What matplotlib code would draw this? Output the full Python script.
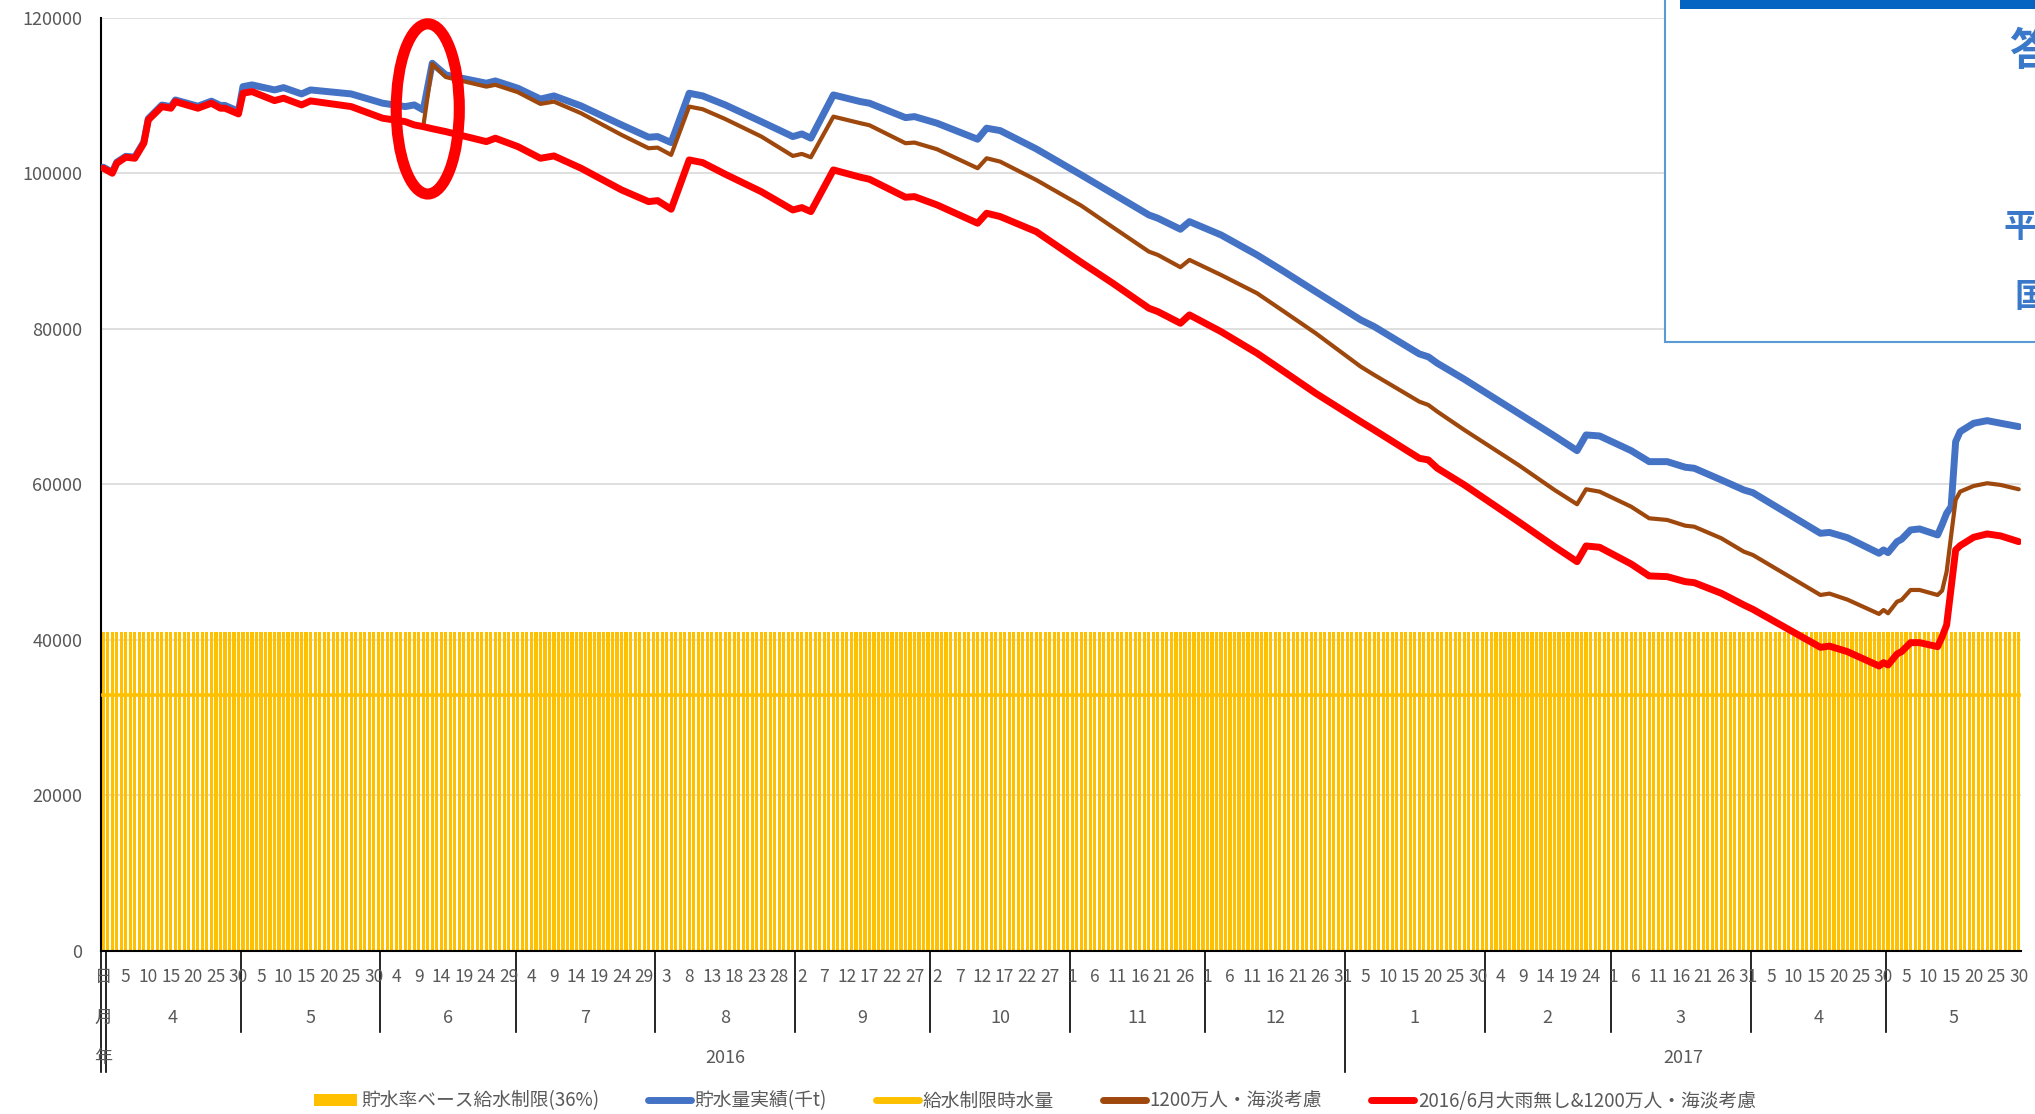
import numpy as np
import pandas as pd
import matplotlib
matplotlib.use("Agg")
import matplotlib.pyplot as plt
import matplotlib.transforms as mtransforms
from matplotlib.patches import Ellipse, Rectangle, Patch
from matplotlib.lines import Line2D

plt.rcParams['font.family'] = ['Noto Sans CJK JP', 'DejaVu Sans']

# ---------------- data ----------------
# category axis: first slot is the header column (日/月/年), then one category per day
CAT_START = "2016-03-31"
CAT_END = "2017-05-30"

sample_dates = [
    "2016-03-31", "2016-04-02", "2016-04-03", "2016-04-05", "2016-04-07", "2016-04-09",
    "2016-04-10", "2016-04-13", "2016-04-15", "2016-04-16", "2016-04-21", "2016-04-24",
    "2016-04-26", "2016-04-27", "2016-04-30", "2016-05-01", "2016-05-03", "2016-05-08",
    "2016-05-10", "2016-05-14", "2016-05-16", "2016-05-25", "2016-06-01", "2016-06-06",
    "2016-06-08", "2016-06-10", "2016-06-12", "2016-06-15", "2016-06-24", "2016-06-26",
    "2016-07-01", "2016-07-06", "2016-07-09", "2016-07-15", "2016-07-24", "2016-07-30",
    "2016-08-01", "2016-08-04", "2016-08-08", "2016-08-11", "2016-08-16", "2016-08-24",
    "2016-08-31", "2016-09-02", "2016-09-04", "2016-09-09", "2016-09-15", "2016-09-17",
    "2016-09-25", "2016-09-27", "2016-10-02", "2016-10-11", "2016-10-13", "2016-10-16",
    "2016-10-24", "2016-11-03", "2016-11-10", "2016-11-18", "2016-11-20", "2016-11-25",
    "2016-11-27", "2016-12-04", "2016-12-12", "2016-12-18", "2016-12-25", "2017-01-04",
    "2017-01-07", "2017-01-17", "2017-01-19", "2017-01-21", "2017-01-27", "2017-02-08",
    "2017-02-16", "2017-02-21", "2017-02-23", "2017-02-26", "2017-03-05", "2017-03-09",
    "2017-03-13", "2017-03-17", "2017-03-19", "2017-03-25", "2017-03-30", "2017-04-01",
    "2017-04-16", "2017-04-18", "2017-04-22", "2017-04-29", "2017-04-30", "2017-05-01",
    "2017-05-03", "2017-05-04", "2017-05-06", "2017-05-08", "2017-05-12", "2017-05-13",
    "2017-05-14", "2017-05-15", "2017-05-16", "2017-05-17", "2017-05-20", "2017-05-23",
    "2017-05-26", "2017-05-30",
]

storage_actual = [  # 貯水量実績(千t)
    100800, 100150, 101450, 102200, 102100, 104050,
    107050, 108800, 108600, 109450, 108650, 109300,
    108750, 108750, 108000, 111170, 111390, 110745,
    111040, 110230, 110745, 110230, 109035, 108600,
    108815, 108170, 114180, 112675, 111610, 111900,
    110960, 109570, 109975, 108690, 106245, 104660,
    104740, 103970, 110320, 109975, 108815, 106665,
    104740, 105080, 104530, 110100, 109240, 109035,
    107180, 107310, 106460, 104400, 105820, 105510,
    103160, 99800, 97400, 94655, 94230, 92815,
    93795, 92085, 89510, 87365, 84790, 81145,
    80285, 76770, 76400, 75570, 73510, 69135,
    66215, 64325, 66345, 66215, 64325, 62910,
    62910, 62190, 62060, 60555, 59265, 58920,
    53690, 53800, 53120, 51120, 51545, 51200,
    52615, 52920, 54120, 54250, 53475, 54800,
    56265, 57120, 65480, 66770, 67850, 68185,
    67850, 67415,
]

storage_12m = [  # 1200万人・海淡考慮
    100670, 100025, 101310, 102080, 101950, 103885,
    106885, 108600, 108390, 109240, 108390, 109035,
    108390, 108390, 107655, 110320, 110530, 109370,
    109680, 108815, 109330, 108600, 107100, 106665,
    106240, 106020, 114100, 112400, 111170, 111400,
    110450, 108945, 109240, 107750, 104955, 103240,
    103320, 102380, 108600, 108260, 107000, 104750,
    102250, 102510, 102080, 107310, 106460, 106200,
    103885, 103970, 103110, 100670, 101950, 101520,
    99160, 95850, 93075, 89935, 89510, 87930,
    88870, 86935, 84580, 82215, 79435, 75135,
    74065, 70630, 70205, 69345, 66985, 62480,
    59265, 57425, 59355, 59050, 57115, 55620,
    55405, 54670, 54540, 53050, 51325, 50900,
    45750, 45930, 45150, 43310, 43820, 43400,
    44890, 45110, 46395, 46395, 45750, 46300,
    48750, 53400, 57980, 59050, 59780, 60130,
    59910, 59355,
]

storage_no_rain = [  # 2016/6月大雨無し&1200万人・海淡考慮
    100670, 100025, 101310, 102080, 101950, 103885,
    106885, 108600, 108390, 109240, 108390, 109035,
    108390, 108390, 107655, 110320, 110530, 109370,
    109680, 108815, 109330, 108600, 107100, 106665,
    106240, 106020, 105750, 105380, 104095, 104530,
    103450, 101950, 102250, 100670, 97875, 96370,
    96500, 95390, 101735, 101390, 99900, 97650,
    95300, 95600, 95085, 100450, 99510, 99250,
    96935, 97015, 95945, 93590, 94875, 94450,
    92510, 88550, 85865, 82650, 82215, 80720,
    81790, 79640, 76860, 74490, 71710, 68055,
    66985, 63345, 63130, 62060, 59910, 55190,
    51970, 50040, 52060, 51890, 49740, 48200,
    48110, 47465, 47335, 45970, 44465, 43910,
    39020, 39170, 38455, 36615, 37040, 36745,
    38160, 38455, 39615, 39615, 39100, 40385,
    41890, 46700, 51545, 52100, 53180, 53605,
    53350, 52615,
]

limit_36pct_value = 41000        # 貯水率ベース給水制限(36%)  (bar, every category)
restriction_level_value = 32900  # 給水制限時水量 (line)

series_labels = ["貯水率ベース給水制限(36%)", "貯水量実績(千t)", "給水制限時水量",
                 "1200万人・海淡考慮", "2016/6月大雨無し&1200万人・海淡考慮"]
header_labels = ["日", "月", "年"]
y_ticks = [0, 20000, 40000, 60000, 80000, 100000, 120000]

# annotation ellipse (around the June 2016 jump)
ellipse_date = "2016-06-11"
ellipse_value = 108300
ellipse_width_days = 14
ellipse_height_value = 21900

# ---------------- figure ----------------
W, H = 2035, 1114
fig = plt.figure(figsize=(W / 100, H / 100), dpi=100)
fig.patch.set_facecolor("white")

def fx(px):
    return px / W

def fy(py):
    return 1 - py / H

ax = fig.add_axes([fx(101), fy(950.5), fx(2021) - fx(101), fy(18) - fy(950.5)])

cats = pd.date_range(CAT_START, CAT_END, freq="D")
n = len(cats)
xcat = np.arange(n)
t0 = cats[0]
xs = np.array([(pd.Timestamp(d) - t0).days for d in sample_dates])

GRAY = "#595959"
YELLOW = "#FFC000"
BLUE = "#4472C4"
BROWN = "#9E480E"
RED = "#FF0000"

bar_vals = [limit_36pct_value] * n
line_vals = [restriction_level_value] * n

ax.bar(xcat, bar_vals, width=0.7, color=YELLOW, linewidth=0, zorder=2)
ax.plot(xs, storage_actual, color=BLUE, lw=5, solid_joinstyle="round",
        solid_capstyle="round", zorder=3)
ax.plot(xcat, line_vals, color=YELLOW, lw=2.6, zorder=3)
ax.plot(xs, storage_12m, color=BROWN, lw=3, solid_joinstyle="round",
        solid_capstyle="round", zorder=4)
ax.plot(xs, storage_no_rain, color=RED, lw=5, solid_joinstyle="round",
        solid_capstyle="round", zorder=5)

ax.set_xlim(-0.5, n - 0.5)
ax.set_ylim(0, 120000)
ax.set_yticks(y_ticks)
ax.set_yticklabels([str(v) for v in y_ticks])
ax.tick_params(axis="y", length=0, pad=13.5, labelsize=13, labelcolor=GRAY)
ax.set_xticks([])
ax.yaxis.grid(True, color="#D9D9D9", lw=1.2)
ax.set_axisbelow(True)
for s in ["top", "right"]:
    ax.spines[s].set_visible(False)
ax.spines["left"].set_color("black")
ax.spines["left"].set_linewidth(1.5)
ax.spines["bottom"].set_color("black")
ax.spines["bottom"].set_linewidth(1.5)
ax.spines["bottom"].set_zorder(6)

# annotation ellipse
ell = Ellipse(((pd.Timestamp(ellipse_date) - t0).days, ellipse_value),
              ellipse_width_days, ellipse_height_value, fill=False,
              edgecolor=RED, lw=8, zorder=7, clip_on=False)
ax.add_patch(ell)

# ---------------- multi-level category axis ----------------
trans = mtransforms.blended_transform_factory(ax.transData, fig.transFigure)
Y_DAY, Y_MON, Y_YEAR = fy(977), fy(1018), fy(1058)

for i in range(0, n, 5):
    lab = header_labels[0] if i == 0 else str(cats[i].day)
    ax.text(i, Y_DAY, lab, transform=trans, ha="center", va="center",
            fontsize=12.5, color=GRAY)

ax.text(0, Y_MON, header_labels[1], transform=trans, ha="center", va="center",
        fontsize=13, color=GRAY)
ax.text(0, Y_YEAR, header_labels[2], transform=trans, ha="center", va="center",
        fontsize=13, color=GRAY)

day_idx = np.arange(1, n)
days = cats[1:]
month_keys = list(zip(days.year, days.month))
uniq_months = []
for k in month_keys:
    if k not in uniq_months:
        uniq_months.append(k)
for (yy, mm) in uniq_months:
    sel = day_idx[(days.year == yy) & (days.month == mm)]
    ax.text((sel[0] + sel[-1]) / 2, Y_MON, str(mm), transform=trans,
            ha="center", va="center", fontsize=13, color=GRAY)
    if not (sel[0] == 1):
        bottom = fy(1072) if mm == 1 else fy(1032)
        ax.add_line(Line2D([sel[0] - 0.5, sel[0] - 0.5], [fy(951), bottom],
                           transform=trans, color="black", lw=1.2, clip_on=False))
for yy in sorted(set(days.year)):
    sel = day_idx[days.year == yy]
    ax.text((sel[0] + sel[-1]) / 2, Y_YEAR, str(yy), transform=trans,
            ha="center", va="center", fontsize=13, color=GRAY)
for xb in (-0.5, 0.5):
    ax.add_line(Line2D([xb, xb], [fy(951), fy(1072)], transform=trans,
                       color="black", lw=1.2, clip_on=False))

# ---------------- legend ----------------
handles = [
    Patch(facecolor=YELLOW, edgecolor="none"),
    Line2D([], [], color=BLUE, lw=5, solid_capstyle="round"),
    Line2D([], [], color=YELLOW, lw=5, solid_capstyle="round"),
    Line2D([], [], color=BROWN, lw=5, solid_capstyle="round"),
    Line2D([], [], color=RED, lw=5, solid_capstyle="round"),
]
fig.legend(handles, series_labels, loc="center", bbox_to_anchor=(fx(1035), fy(1101)),
           ncol=5, frameon=False, fontsize=13.5, labelcolor=GRAY,
           handlelength=2.3, handleheight=0.6, handletextpad=0.2,
           columnspacing=2.6)

# ---------------- overlaid picture fragment (top right) ----------------
fig.add_artist(Rectangle((fx(1665), fy(342)), fx(2045) - fx(1665), fy(-5) - fy(342),
                         transform=fig.transFigure, facecolor="white",
                         edgecolor="#5B9BD5", lw=1.5, zorder=10))
fig.add_artist(Rectangle((fx(1680), fy(9)), fx(2045) - fx(1680), fy(-5) - fy(9),
                         transform=fig.transFigure, facecolor="#0563C1",
                         edgecolor="none", zorder=11))
fig.text(fx(2009), fy(52), "答", fontsize=32, fontweight="bold", color="#3A78C9",
         ha="left", va="center", zorder=12)
fig.text(fx(2003), fy(227), "平", fontsize=24, fontweight="bold", color="#3A78C9",
         ha="left", va="center", zorder=12)
fig.text(fx(2014), fy(298), "国", fontsize=24, fontweight="bold", color="#3A78C9",
         ha="left", va="center", zorder=12)

fig.savefig("out.png", dpi=100)
